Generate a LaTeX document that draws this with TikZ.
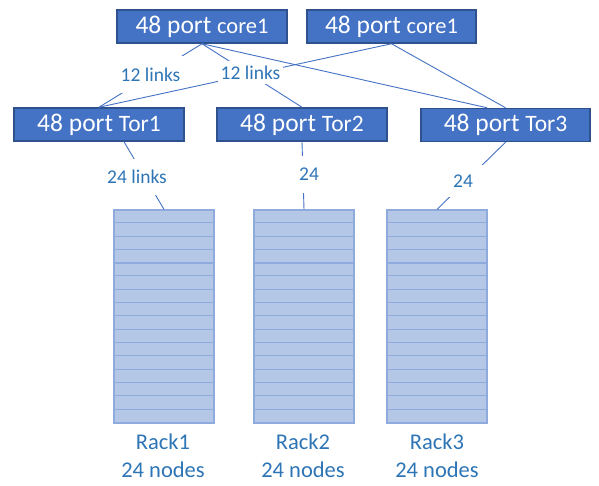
\documentclass[tikz,border=0pt]{standalone}
\usepackage{fontspec}
\setmainfont{Carlito}
\definecolor{boxblue}{HTML}{4472C4}
\definecolor{boxedge}{HTML}{2F528F}
\definecolor{rackfill}{HTML}{B4C7E7}
\definecolor{rackedge}{HTML}{8FAADC}
\definecolor{txtblue}{HTML}{2E75B6}
\definecolor{wirecol}{HTML}{4472C4}
\newcommand{\corename}{\fontsize{22.5}{26}\selectfont}
\newcommand{\torname}{\fontsize{23.5}{26}\selectfont}
\begin{document}
\begin{tikzpicture}[x=1pt,y=-1pt,
  switchbox/.style={draw=boxedge, fill=boxblue, line width=1.5pt, text=white,
    minimum height=33pt, inner sep=0pt, font=\fontsize{25.5}{30}\selectfont},
  wire/.style={draw=wirecol, line width=0.9pt},
  linklabel/.style={fill=white, text=txtblue, inner sep=0pt,
    font=\fontsize{19.5}{23}\selectfont},
  rackbox/.style={draw=rackedge, fill=rackfill, line width=1.2pt,
    minimum width=100pt, minimum height=213pt, inner sep=0pt},
  rackrow/.style={draw=rackedge, line width=1pt},
  racklabel/.style={text=txtblue, align=center, inner sep=0pt,
    font=\fontsize{22.5}{28}\selectfont}
]
\useasboundingbox[fill=white] (0,0) rectangle (599,486);
% switches
\node[switchbox, minimum width=170pt] (core1) at (202,26.5) {48 port {\corename core1}};
\node[switchbox, minimum width=169pt] (core2) at (391.5,26.5) {48 port {\corename core1}};
\node[switchbox, minimum width=170pt] (tor1) at (99,124.5) {48 port {\torname Tor1}};
\node[switchbox, minimum width=170pt] (tor2) at (302,124.5) {48 port {\torname Tor2}};
\node[switchbox, minimum width=169pt] (tor3) at (505.5,125) {48 port {\torname Tor3}};
% racks
\foreach \n/\x in {rack1/164, rack2/304, rack3/437}{
  \node[rackbox] (\n) at (\x,316.5) {};
  \foreach \i in {1,...,15}{
    \ifnum\i=4
      \draw[rackrow, line width=2pt] (\n.north west) ++(0,\i*13.3125) -- ++(100,0);
    \else
      \draw[rackrow] (\n.north west) ++(0,\i*13.3125) -- ++(100,0);
    \fi
  }
}
\node[racklabel] (rl1) at (163,456) {Rack1\\24 nodes};
\node[racklabel] (rl2) at (303,456) {Rack2\\24 nodes};
\node[racklabel] (rl3) at (437,456) {Rack3\\24 nodes};
% core to tor links
\draw[wire] (core1.south) -- (tor1.north);
\node[linklabel, minimum width=67pt, minimum height=37pt] (l1) at (150.5,74.5) {12 links};
\draw[wire] (core2.south) -- (tor1.north);
\draw[wire] (core1.south) -- (tor2.north);
\node[linklabel, minimum width=65pt, minimum height=23pt] (l2) at (250.5,72.5) {12 links};
\draw[wire] (core1.south) -- ([xshift=-18.5pt]tor3.north);
\draw[wire] (core2.south) -- (tor3.north);
% tor to rack links
\draw[wire] ([xshift=25pt]tor1.south) -- (rack1.north);
\node[linklabel, minimum width=60pt, minimum height=36pt] (l3) at (137,177) {24 links};
\draw[wire] (tor2.south) -- (rack2.north);
\node[linklabel, minimum width=22pt, minimum height=37pt] (l4) at (309,174.5) {24};
\draw[wire] (tor3.south) -- (rack3.north);
\node[linklabel, minimum width=44pt, minimum height=32pt] (l5) at (463,181) {24};
\end{tikzpicture}
\end{document}
